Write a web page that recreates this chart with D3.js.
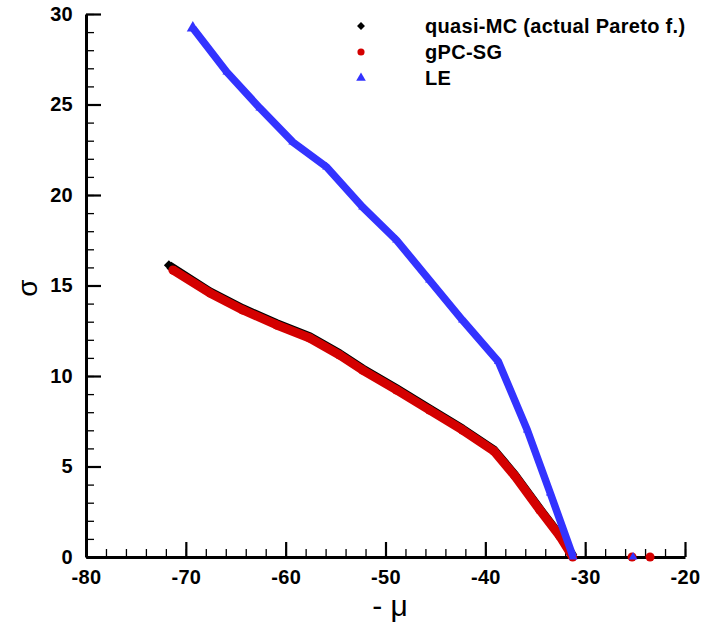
<!DOCTYPE html>
<html>
<head>
<meta charset="utf-8">
<script src="https://cdn.jsdelivr.net/npm/d3@7"></script>
<style>
  body { margin: 0; background: #fff; }
  text { font-family: Arial, "Liberation Sans", sans-serif; }
</style>
</head>
<body>
<div id="chart"></div>
<script>
const width = 701;
const height = 635;

// quasi-MC (actual Pareto front)
const mcMu    = [-71.7, -67.6, -64.3, -60.9, -57.6, -54.6, -52.3, -48.9, -45.6, -42.3, -39.15, -37.05, -34.55, -32.55, -31.15];
const mcSigma = [16.12, 14.67, 13.73, 12.90, 12.18, 11.24, 10.41, 9.31, 8.20, 7.09, 5.93, 4.55, 2.66, 1.21, 0];
const mcIsoMu = [-25.3, -23.5];
const mcIsoSigma = [0, 0];

// gPC-SG
const sgMu    = [-71.3, -67.6, -64.3, -60.9, -57.6, -54.6, -52.3, -48.9, -45.6, -42.3, -39.15, -37.05, -34.55, -32.55, -31.25];
const sgSigma = [15.86, 14.59, 13.65, 12.82, 12.10, 11.16, 10.33, 9.23, 8.12, 7.02, 5.86, 4.48, 2.60, 1.16, 0];
const sgIsoMu = [-25.3, -23.5];
const sgIsoSigma = [0, 0];

// LE
const leMu    = [-69.3, -65.9, -62.6, -59.3, -55.9, -52.3, -48.9, -45.6, -42.3, -38.7, -35.8, -33.5, -31.2];
const leSigma = [29.23, 26.80, 24.81, 22.93, 21.55, 19.34, 17.51, 15.30, 13.09, 10.80, 7.02, 3.54, 0];
const leIsoMu = [-25.2];
const leIsoSigma = [0];

const xTicks = [-80, -70, -60, -50, -40, -30, -20];
const yTicks = [0, 5, 10, 15, 20, 25, 30];
const legendLabels = ["quasi-MC (actual Pareto f.)", "gPC-SG", "LE"];

const svg = d3.select("#chart").append("svg")
    .attr("width", width)
    .attr("height", height);

const x = d3.scaleLinear().domain([-80, -20]).range([86, 685]);
const y = d3.scaleLinear().domain([0, 30]).range([557, 14]);

// plain hyphen for negative numbers, like the original
const fmt = d => String(d);

const tickFont = g => g.selectAll("text")
    .attr("font-size", 20)
    .attr("font-weight", "bold")
    .attr("letter-spacing", "0.3px")
    .attr("fill", "#000");

// minor ticks
svg.append("g")
    .attr("transform", `translate(0,${y(0)})`)
    .call(d3.axisBottom(x).tickValues(d3.range(-80, -19, 2)).tickSize(-8).tickSizeOuter(0).tickFormat(""))
    .call(g => g.select(".domain").remove())
    .call(g => g.selectAll("line").attr("stroke-width", 1.3));
svg.append("g")
    .attr("transform", `translate(${x(-80)},0)`)
    .call(d3.axisLeft(y).tickValues(d3.range(0, 30.1, 1)).tickSize(-8).tickSizeOuter(0).tickFormat(""))
    .call(g => g.select(".domain").remove())
    .call(g => g.selectAll("line").attr("stroke-width", 1.3));

// major ticks
svg.append("g")
    .attr("transform", `translate(0,${y(0)})`)
    .call(d3.axisBottom(x).tickValues(xTicks).tickSize(-15).tickSizeOuter(0).tickPadding(13).tickFormat(fmt))
    .call(g => g.select(".domain").attr("stroke-width", 3))
    .call(g => g.selectAll(".tick line").attr("stroke-width", 2.2))
    .call(tickFont);
svg.append("g")
    .attr("transform", `translate(${x(-80)},0)`)
    .call(d3.axisLeft(y).tickValues(yTicks).tickSize(-15).tickSizeOuter(0).tickPadding(13).tickFormat(fmt))
    .call(g => g.select(".domain").attr("stroke-width", 3))
    .call(g => g.selectAll(".tick line").attr("stroke-width", 2.2))
    .call(tickFont);

// axis titles
svg.append("text")
    .attr("x", 390).attr("y", 616)
    .attr("text-anchor", "middle")
    .attr("font-size", 30)
    .text("- \u03bc");
svg.append("text")
    .attr("transform", "translate(37,288) rotate(-90)")
    .attr("text-anchor", "middle")
    .attr("font-size", 28)
    .text("\u03c3");

const line = d3.line().x(d => x(d[0])).y(d => y(d[1]));
const zip = (a, b) => a.map((v, i) => [v, b[i]]);

const diamond = d3.symbolDiamond2 || d3.symbolDiamond;

const series = [
    { mu: mcMu, sigma: mcSigma, isoMu: mcIsoMu, isoSigma: mcIsoSigma, color: "#000000", symbol: diamond, size: 32, width: 8.5 },
    { mu: sgMu, sigma: sgSigma, isoMu: sgIsoMu, isoSigma: sgIsoSigma, color: "#d40000", symbol: d3.symbolCircle, size: 64, width: 9 },
    { mu: leMu, sigma: leSigma, isoMu: leIsoMu, isoSigma: leIsoSigma, color: "#3333ff", symbol: d3.symbolTriangle, size: 32, width: 7.5 }
];

series.forEach(s => {
    const pts = zip(s.mu, s.sigma);
    svg.append("path")
        .datum(pts)
        .attr("d", line)
        .attr("fill", "none")
        .attr("stroke", s.color)
        .attr("stroke-width", s.width)
        .attr("stroke-linejoin", "round");
    const all = pts.concat(zip(s.isoMu, s.isoSigma));
    svg.append("g").selectAll("path")
        .data(all)
        .enter().append("path")
        .attr("transform", d => `translate(${x(d[0])},${y(d[1])})`)
        .attr("d", (d, i) => d3.symbol().type(s.symbol).size(i === 0 ? 64 : s.size)())
        .attr("fill", s.color);
});

// legend
const legend = svg.append("g");
series.forEach((s, i) => {
    const yy = 26 + i * 26;
    legend.append("path")
        .attr("transform", `translate(361,${yy})`)
        .attr("d", d3.symbol().type(s.symbol).size(40))
        .attr("fill", s.color);
    legend.append("text")
        .attr("x", 425).attr("y", yy)
        .attr("dy", "0.36em")
        .attr("font-size", 20)
        .attr("font-weight", "bold")
        .attr("letter-spacing", "0.3px")
        .text(legendLabels[i]);
});
</script>
</body>
</html>
